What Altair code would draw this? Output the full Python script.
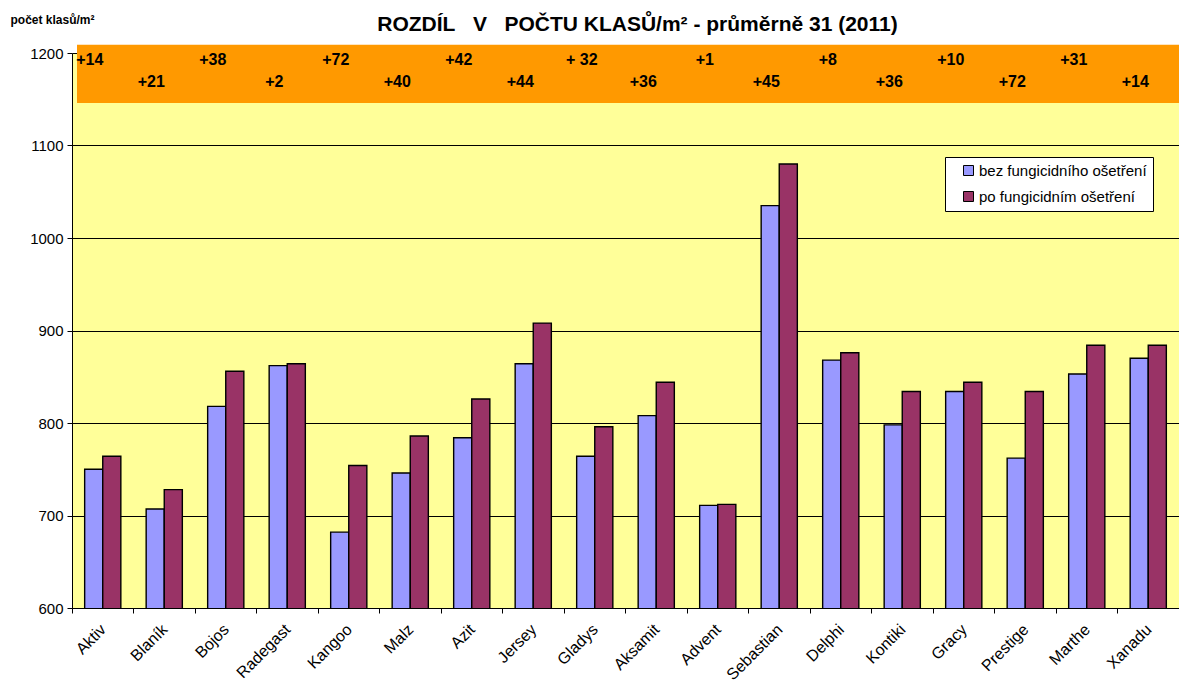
import altair as alt
import pandas as pd

varieties = ["Aktiv", "Blaník", "Bojos", "Radegast", "Kangoo", "Malz", "Azit", "Jersey", "Gladys",
             "Aksamit", "Advent", "Sebastian", "Delphi", "Kontiki", "Gracy", "Prestige", "Marthe", "Xanadu"]
bez = [750, 707, 818, 862, 682, 746, 784, 864, 764, 808, 711, 1035, 868, 798, 834, 762, 853, 870]
po = [764, 728, 856, 864, 754, 786, 826, 908, 796, 844, 712, 1080, 876, 834, 844, 834, 884, 884]
diff_labels = ["+14", "+21", "+38", "+2", "+72", "+40", "+42", "+44", "+ 32",
               "+36", "+1", "+45", "+8", "+36", "+10", "+72", "+31", "+14"]
series_names = ["bez fungicidního ošetření", "po fungicidním ošetření"]
y_ticks = [600, 700, 800, 900, 1000, 1100, 1200]

W, H = 1107, 555
FONT = "Liberation Sans"

rows = []
for v, a, b in zip(varieties, bez, po):
    rows.append({"variety": v, "series": series_names[0], "value": a})
    rows.append({"variety": v, "series": series_names[1], "value": b})
df = pd.DataFrame(rows)

lab = pd.DataFrame({
    "variety": varieties,
    "label": diff_labels,
    "label_y": [1192 if i % 2 == 0 else 1169 for i in range(len(varieties))],
})
band_df = pd.DataFrame({"top": [1209], "bottom": [1146]})

xscale = alt.Scale(paddingInner=0, paddingOuter=0)
xaxis = alt.Axis(title=None, labelAngle=-45, labelFontSize=16, labelColor="black",
                 bandPosition=0, labelOffset=-5, tickColor="black", domainColor="black",
                 tickSize=5, labelPadding=8, grid=False, labelFont=FONT)
yscale = alt.Scale(domain=[600, 1200], nice=False, zero=False)
yaxis = alt.Axis(values=y_ticks, format="d", title="počet klasů/m²", titleAngle=0,
                 titleX=-62, titleY=-30,
                 titleAlign="left", titleBaseline="alphabetic", titleFontSize=12,
                 titleFontWeight="bold", titleColor="black", titleFont=FONT,
                 labelFontSize=15, labelColor="black", labelFont=FONT,
                 gridColor="black", gridWidth=1, gridOpacity=1,
                 tickColor="black", domainColor="black", tickSize=5, labelPadding=4)

band = alt.Chart(band_df).mark_rect(color="#FF9900").encode(
    x=alt.value(5), x2=alt.value(W),
    y=alt.Y("top:Q", scale=yscale, axis=yaxis),
    y2="bottom:Q",
)

bars = alt.Chart(df).mark_bar(stroke="black", strokeWidth=1.4, clip=True).encode(
    x=alt.X("variety:N", sort=varieties, scale=xscale, axis=xaxis),
    xOffset=alt.XOffset("series:N", sort=series_names,
                        scale=alt.Scale(paddingOuter=0.7, paddingInner=0)),
    y=alt.Y("value:Q", scale=yscale, axis=yaxis),
    color=alt.Color("series:N", sort=series_names,
                    scale=alt.Scale(domain=series_names, range=["#9999FF", "#993366"]),
                    legend=alt.Legend(title=None, orient="none", legendX=873, legendY=104,
                                      fillColor="white", strokeColor="black", padding=6,
                                      symbolType="square", symbolSize=100,
                                      symbolStrokeColor="black", symbolStrokeWidth=1,
                                      labelFontSize=15, labelFont=FONT, labelColor="black",
                                      labelLimit=400,
                                      rowPadding=10, symbolOffset=10, labelOffset=3)),
)

texts = alt.Chart(lab).mark_text(fontWeight="bold", fontSize=16, font=FONT, dx=-13,
                                 align="center", baseline="middle", color="black").encode(
    x=alt.X("variety:N", sort=varieties, scale=xscale, axis=xaxis),
    y=alt.Y("label_y:Q", scale=yscale, axis=yaxis),
    text="label:N",
)

chart = alt.layer(band, bars, texts).properties(
    width=W, height=H,
    padding={"left": 64, "top": 45, "right": 0, "bottom": 80},
    autosize=alt.AutoSizeParams(type="none"),
    title=alt.TitleParams(
        text="ROZDÍL\u00a0\u00a0 V\u00a0\u00a0 POČTU KLASŮ/m² - průměrně 31 (2011)",
        fontSize=21, fontWeight="bold", font=FONT, anchor="middle", dx=12, offset=0, dy=22,
        color="black"),
).configure(font=FONT).configure_view(fill="#FFFF99", strokeWidth=0)

chart.save("out.html", embed_options={"renderer": "svg", "actions": False})
